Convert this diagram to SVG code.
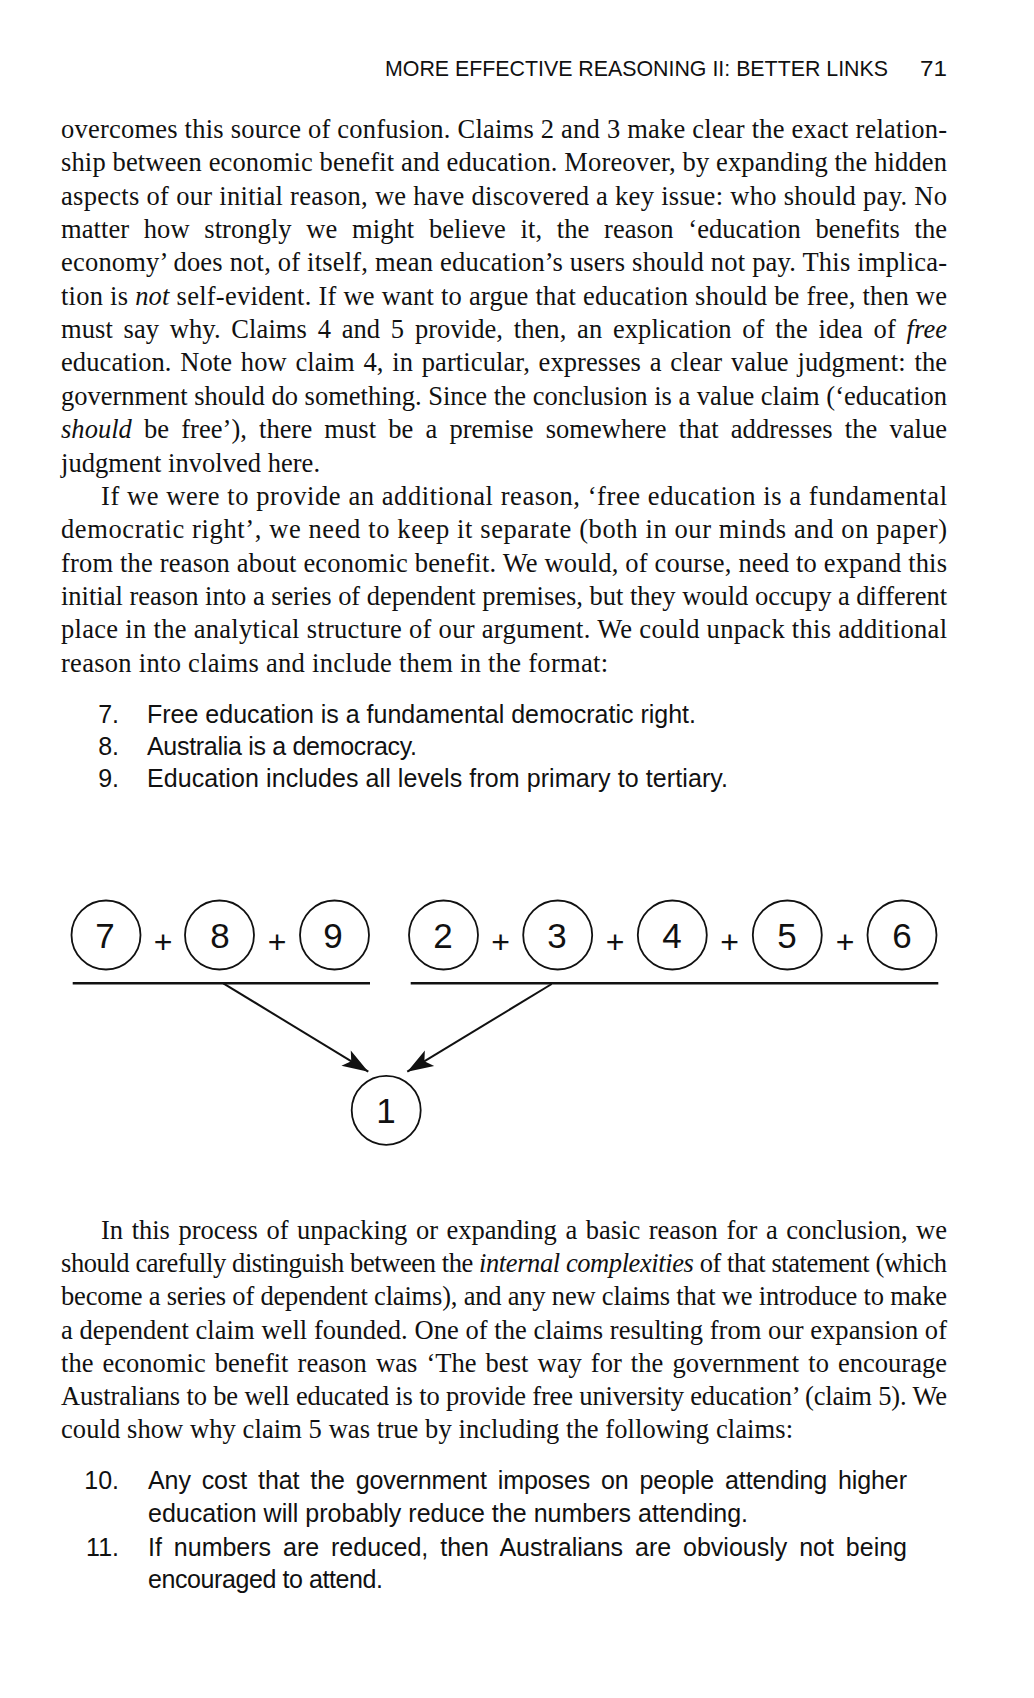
<svg xmlns="http://www.w3.org/2000/svg" width="1034" height="1698" viewBox="0 0 1034 1698">
<style>
.hdr{font-family:"Liberation Sans",Arial,sans-serif;font-size:22px;fill:#111}
.body{font-family:"Liberation Serif","Times New Roman",serif;font-size:26.5px;fill:#111}
.it{font-style:italic}
.list{font-family:"Liberation Sans",Arial,sans-serif;font-size:25px;fill:#111}
.num{text-anchor:end}
.node circle{fill:#fff;stroke:#111;stroke-width:1.8}
.node text{font-family:"Liberation Sans",Arial,sans-serif;font-size:35px;text-anchor:middle;fill:#111}
.plus{font-family:"Liberation Sans",Arial,sans-serif;font-size:32px;text-anchor:middle;fill:#111}
.bar{stroke:#111;stroke-width:2.5}
.arr{stroke:#111;stroke-width:2;fill:none}
</style>
<defs>
<marker id="ah" markerUnits="userSpaceOnUse" markerWidth="30" markerHeight="22" viewBox="0 0 30 22" refX="28" refY="11" orient="auto">
<path d="M28,11 L2,2 L8,11 L2,20 Z" fill="#111"/>
</marker>
</defs>
<rect width="1034" height="1698" fill="#fff"/>

<g id="header">
<text class="hdr" x="385" y="76" textLength="503" lengthAdjust="spacingAndGlyphs">MORE EFFECTIVE REASONING II: BETTER LINKS</text>
<text class="hdr" x="920" y="76" textLength="27" lengthAdjust="spacingAndGlyphs">71</text>
</g>

<g id="para1">
<text class="body" x="61" y="138" textLength="886">overcomes this source of confusion. Claims 2 and 3 make clear the exact relation-</text>
<text class="body" x="61" y="171.35" textLength="886">ship between economic benefit and education. Moreover, by expanding the hidden</text>
<text class="body" x="61" y="204.7" textLength="886">aspects of our initial reason, we have discovered a key issue: who should pay. No</text>
<text class="body" x="61" y="238.05" textLength="886" word-spacing="8">matter how strongly we might believe it, the reason ‘education benefits the</text>
<text class="body" x="61" y="271.4" textLength="886">economy’ does not, of itself, mean education’s users should not pay. This implica-</text>
<text class="body" x="61" y="304.75" textLength="886">tion is <tspan class="it">not</tspan> self-evident. If we want to argue that education should be free, then we</text>
<text class="body" x="61" y="338.1" textLength="886" word-spacing="4">must say why. Claims 4 and 5 provide, then, an explication of the idea of <tspan class="it">free</tspan></text>
<text class="body" x="61" y="371.45" textLength="886" word-spacing="2">education. Note how claim 4, in particular, expresses a clear value judgment: the</text>
<text class="body" x="61" y="404.8" textLength="886">government should do something. Since the conclusion is a value claim (‘education</text>
<text class="body" x="61" y="438.15" textLength="886" word-spacing="5.5"><tspan class="it">should</tspan> be free’), there must be a premise somewhere that addresses the value</text>
<text class="body" x="61" y="471.5" textLength="259">judgment involved here.</text>
</g>

<g id="para2">
<text class="body" x="101" y="504.85" textLength="846">If we were to provide an additional reason, ‘free education is a fundamental</text>
<text class="body" x="61" y="538.2" textLength="886">democratic right’, we need to keep it separate (both in our minds and on paper)</text>
<text class="body" x="61" y="571.55" textLength="886">from the reason about economic benefit. We would, of course, need to expand this</text>
<text class="body" x="61" y="604.9" textLength="886">initial reason into a series of dependent premises, but they would occupy a different</text>
<text class="body" x="61" y="638.25" textLength="886">place in the analytical structure of our argument. We could unpack this additional</text>
<text class="body" x="61" y="671.6" textLength="547">reason into claims and include them in the format:</text>
</g>

<g id="list1">
<text class="list num" x="119" y="723">7.</text>
<text class="list" x="147" y="723" textLength="549">Free education is a fundamental democratic right.</text>
<text class="list num" x="119" y="755">8.</text>
<text class="list" x="147" y="755" textLength="270">Australia is a democracy.</text>
<text class="list num" x="119" y="787">9.</text>
<text class="list" x="147" y="787" textLength="581">Education includes all levels from primary to tertiary.</text>
</g>

<g id="connectors">
<line class="bar" x1="72.7" y1="983.3" x2="370" y2="983.3"/>
<line class="bar" x1="410.7" y1="983.3" x2="938.3" y2="983.3"/>
<line class="arr" x1="223.3" y1="983.3" x2="368.3" y2="1071.7" marker-end="url(#ah)"/>
<line class="arr" x1="551.7" y1="984" x2="407.3" y2="1071.7" marker-end="url(#ah)"/>
</g>

<g id="plus-signs">
<text class="plus" x="163" y="953">+</text>
<text class="plus" x="277" y="953">+</text>
<text class="plus" x="500.5" y="953">+</text>
<text class="plus" x="615" y="953">+</text>
<text class="plus" x="729.5" y="953">+</text>
<text class="plus" x="845" y="953">+</text>
</g>

<g id="node7" class="node"><circle cx="106" cy="935" r="34.5"/><text x="105" y="948">7</text></g>
<g id="node8" class="node"><circle cx="219.5" cy="935" r="34.5"/><text x="220" y="948">8</text></g>
<g id="node9" class="node"><circle cx="334.5" cy="935" r="34.5"/><text x="333" y="948">9</text></g>
<g id="node2" class="node"><circle cx="443.5" cy="935" r="34.5"/><text x="443" y="948">2</text></g>
<g id="node3" class="node"><circle cx="557.7" cy="935" r="34.5"/><text x="557" y="948">3</text></g>
<g id="node4" class="node"><circle cx="672.3" cy="935" r="34.5"/><text x="672" y="948">4</text></g>
<g id="node5" class="node"><circle cx="787.3" cy="935" r="34.5"/><text x="787" y="948">5</text></g>
<g id="node6" class="node"><circle cx="902" cy="935" r="34.5"/><text x="902" y="948">6</text></g>
<g id="node1" class="node"><circle cx="386.2" cy="1110.3" r="34.5"/><text x="386" y="1123">1</text></g>

<g id="para3">
<text class="body" x="101" y="1239" textLength="846" word-spacing="2">In this process of unpacking or expanding a basic reason for a conclusion, we</text>
<text class="body" x="61" y="1272.2" textLength="886">should carefully distinguish between the <tspan class="it">internal complexities</tspan> of that statement (which</text>
<text class="body" x="61" y="1305.4" textLength="886">become a series of dependent claims), and any new claims that we introduce to make</text>
<text class="body" x="61" y="1338.6" textLength="886">a dependent claim well founded. One of the claims resulting from our expansion of</text>
<text class="body" x="61" y="1371.8" textLength="886" word-spacing="2.5">the economic benefit reason was ‘The best way for the government to encourage</text>
<text class="body" x="61" y="1405" textLength="886">Australians to be well educated is to provide free university education’ (claim 5). We</text>
<text class="body" x="61" y="1438.2" textLength="732">could show why claim 5 was true by including the following claims:</text>
</g>

<g id="list2">
<text class="list num" x="119" y="1489">10.</text>
<text class="list" x="148" y="1489" textLength="759" word-spacing="4">Any cost that the government imposes on people attending higher</text>
<text class="list" x="148" y="1522" textLength="600">education will probably reduce the numbers attending.</text>
<text class="list num" x="119" y="1556">11.</text>
<text class="list" x="148" y="1556" textLength="759" word-spacing="5">If numbers are reduced, then Australians are obviously not being</text>
<text class="list" x="148" y="1588" textLength="235">encouraged to attend.</text>
</g>
</svg>
